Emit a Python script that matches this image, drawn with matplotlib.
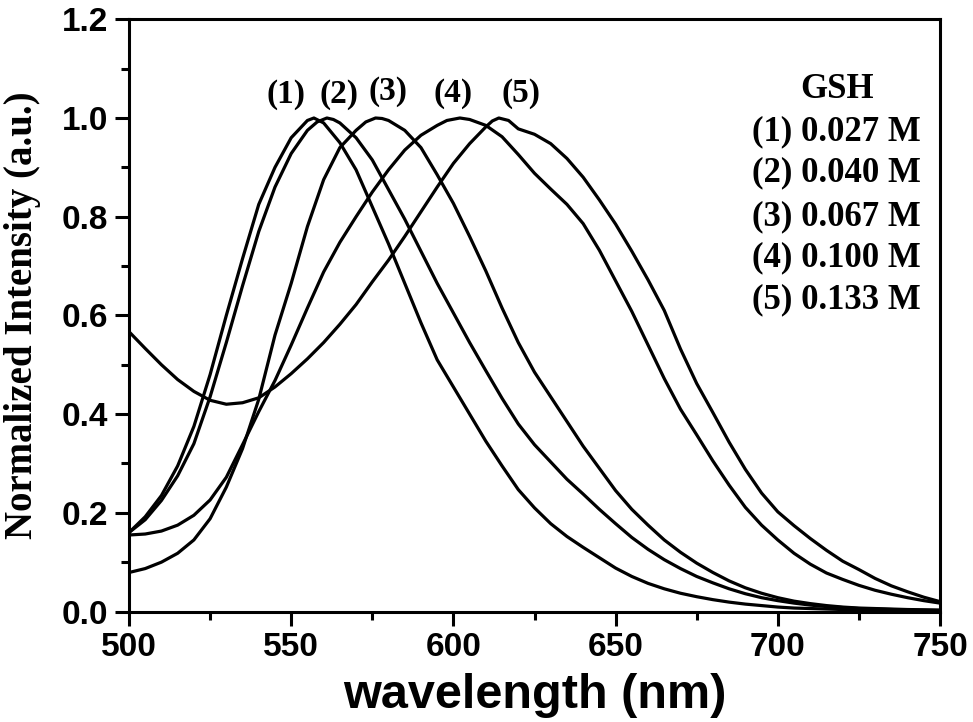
import matplotlib
matplotlib.use("Agg")
import matplotlib.pyplot as plt
from matplotlib.ticker import MultipleLocator, FormatStrFormatter

# ---- data ----
wl1 = [500,505,510,515,520,525,530,535,540,545,550,555,557,560,565,570,575,580,585,590,595,600,605,610,615,620,625,630,635,640,645,650,655,660,665,670,675,680,685,690,695,700,705,710,715,720,725,730,735,740,745,750]
int1 = [0.160,0.192,0.235,0.295,0.375,0.480,0.600,0.715,0.825,0.900,0.960,0.995,1.000,0.990,0.950,0.895,0.820,0.745,0.665,0.585,0.510,0.455,0.400,0.345,0.295,0.247,0.210,0.178,0.152,0.130,0.109,0.088,0.071,0.057,0.046,0.037,0.030,0.024,0.019,0.015,0.012,0.009,0.007,0.006,0.005,0.004,0.0035,0.003,0.0025,0.002,0.0015,0.001]

wl2 = [500,505,510,515,520,525,530,535,540,545,550,555,558,561,563,565,570,575,580,585,590,595,600,605,610,615,620,625,630,635,640,645,650,655,660,665,670,675,680,685,690,695,700,705,710,715,720,725,730,735,740,745,750]
int2 = [0.160,0.186,0.225,0.275,0.340,0.435,0.545,0.660,0.770,0.860,0.928,0.975,0.992,1.000,0.997,0.990,0.960,0.915,0.855,0.795,0.730,0.665,0.605,0.545,0.488,0.432,0.380,0.338,0.303,0.268,0.238,0.207,0.178,0.150,0.126,0.105,0.087,0.071,0.058,0.046,0.036,0.028,0.022,0.017,0.013,0.010,0.008,0.006,0.005,0.004,0.003,0.0025,0.002]

wl3 = [500,505,510,515,520,525,530,535,540,545,550,555,560,565,570,573,576,578,580,585,590,595,600,605,610,615,620,625,630,635,640,645,650,655,660,665,670,675,680,685,690,695,700,705,710,715,720,725,730,735,740,745,750]
int3 = [0.079,0.087,0.100,0.118,0.145,0.188,0.252,0.330,0.430,0.560,0.665,0.780,0.875,0.940,0.975,0.992,1.000,0.999,0.995,0.975,0.940,0.885,0.827,0.760,0.690,0.615,0.545,0.485,0.435,0.385,0.335,0.290,0.245,0.207,0.175,0.145,0.120,0.098,0.079,0.062,0.048,0.037,0.028,0.021,0.016,0.012,0.009,0.007,0.006,0.005,0.004,0.0035,0.003]

wl4 = [500,505,510,515,520,525,530,535,540,545,550,555,560,565,570,575,580,585,590,595,598,602,605,610,615,620,625,630,635,640,645,650,655,660,665,670,675,680,685,690,695,700,705,710,715,720,725,730,735,740,745,750]
int4 = [0.155,0.157,0.163,0.175,0.195,0.226,0.272,0.338,0.405,0.468,0.540,0.615,0.688,0.748,0.800,0.850,0.895,0.935,0.965,0.985,0.995,1.000,0.997,0.985,0.962,0.926,0.888,0.856,0.825,0.786,0.732,0.670,0.608,0.540,0.472,0.410,0.358,0.305,0.256,0.211,0.175,0.145,0.118,0.096,0.078,0.065,0.053,0.043,0.035,0.028,0.022,0.017]

wl5 = [500,505,510,515,520,525,530,535,540,545,550,555,560,565,570,575,580,585,590,595,600,605,610,612,614,617,620,625,630,635,640,645,650,655,660,665,670,675,680,685,690,695,700,705,710,715,720,725,730,735,740,745,750]
int5 = [0.567,0.533,0.500,0.470,0.446,0.428,0.420,0.423,0.433,0.455,0.482,0.512,0.545,0.582,0.622,0.668,0.712,0.760,0.810,0.860,0.908,0.948,0.982,0.994,1.000,0.995,0.978,0.967,0.948,0.918,0.880,0.834,0.785,0.730,0.672,0.610,0.532,0.462,0.403,0.343,0.288,0.240,0.202,0.174,0.148,0.124,0.102,0.085,0.067,0.052,0.040,0.029,0.020]

curve_labels = ["(1)", "(2)", "(3)", "(4)", "(5)"]
label_x = [548.4, 564.7, 579.8, 599.9, 620.8]
label_y = [1.030, 1.030, 1.037, 1.033, 1.033]

legend_title = "GSH"
legend_lines = ["(1) 0.027 M", "(2) 0.040 M", "(3) 0.067 M", "(4) 0.100 M", "(5) 0.133 M"]

x_ticks = [500, 550, 600, 650, 700, 750]
y_ticks = [0.0, 0.2, 0.4, 0.6, 0.8, 1.0, 1.2]

# ---- figure ----
W, H = 973, 722
fig = plt.figure(figsize=(W/100, H/100), dpi=100)
ax = fig.add_axes([129/W, 1-611.5/H, 811/W, 592.2/H])

for wl, inten in [(wl1, int1), (wl2, int2), (wl3, int3), (wl4, int4), (wl5, int5)]:
    ax.plot(wl, inten, color="black", lw=2.3, solid_joinstyle="round",
            solid_capstyle="round")

ax.set_xlim(500, 750)
ax.set_ylim(0.0, 1.2)
ax.set_xticks(x_ticks)
ax.set_yticks(y_ticks)
ax.xaxis.set_minor_locator(MultipleLocator(25))
ax.yaxis.set_minor_locator(MultipleLocator(0.1))
ax.yaxis.set_major_formatter(FormatStrFormatter("%.1f"))

for s in ax.spines.values():
    s.set_linewidth(2.2)
ax.tick_params(which="both", direction="out", width=2.2, top=False, right=False)
ax.tick_params(which="major", length=10, pad=5)
ax.tick_params(which="minor", length=5.5)
for lab in ax.get_xticklabels() + ax.get_yticklabels():
    lab.set_fontfamily("Liberation Sans")
    lab.set_fontweight("bold")
    lab.set_fontsize(24)

ax.set_xlabel("wavelength (nm)", fontfamily="Liberation Sans", fontweight="bold",
              fontsize=35, va="baseline")
ax.xaxis.set_label_coords(0.5, (611.5-708)/592.2)
ax.set_ylabel("Normalized Intensity (a.u.)", fontfamily="Liberation Serif",
              fontweight="bold", fontsize=28, va="baseline")
ax.yaxis.set_label_coords((32-129)/811, 0.5)

serif = dict(fontfamily="Liberation Serif", fontweight="bold", fontsize=24)
for t, x, y in zip(curve_labels, label_x, label_y):
    ax.text(x, y, t, ha="center", va="baseline", **serif)

ax.text(718.4, 1.040, legend_title, ha="center", va="baseline",
        fontfamily="Liberation Serif", fontweight="bold", fontsize=25)
leg_base = [0.9556, 0.8711, 0.7834, 0.6988, 0.6145]
for t, y in zip(legend_lines, leg_base):
    ax.text(692.1, y, t, ha="left", va="baseline",
            fontfamily="Liberation Serif", fontweight="bold", fontsize=25)

fig.savefig("out.png", dpi=100)
